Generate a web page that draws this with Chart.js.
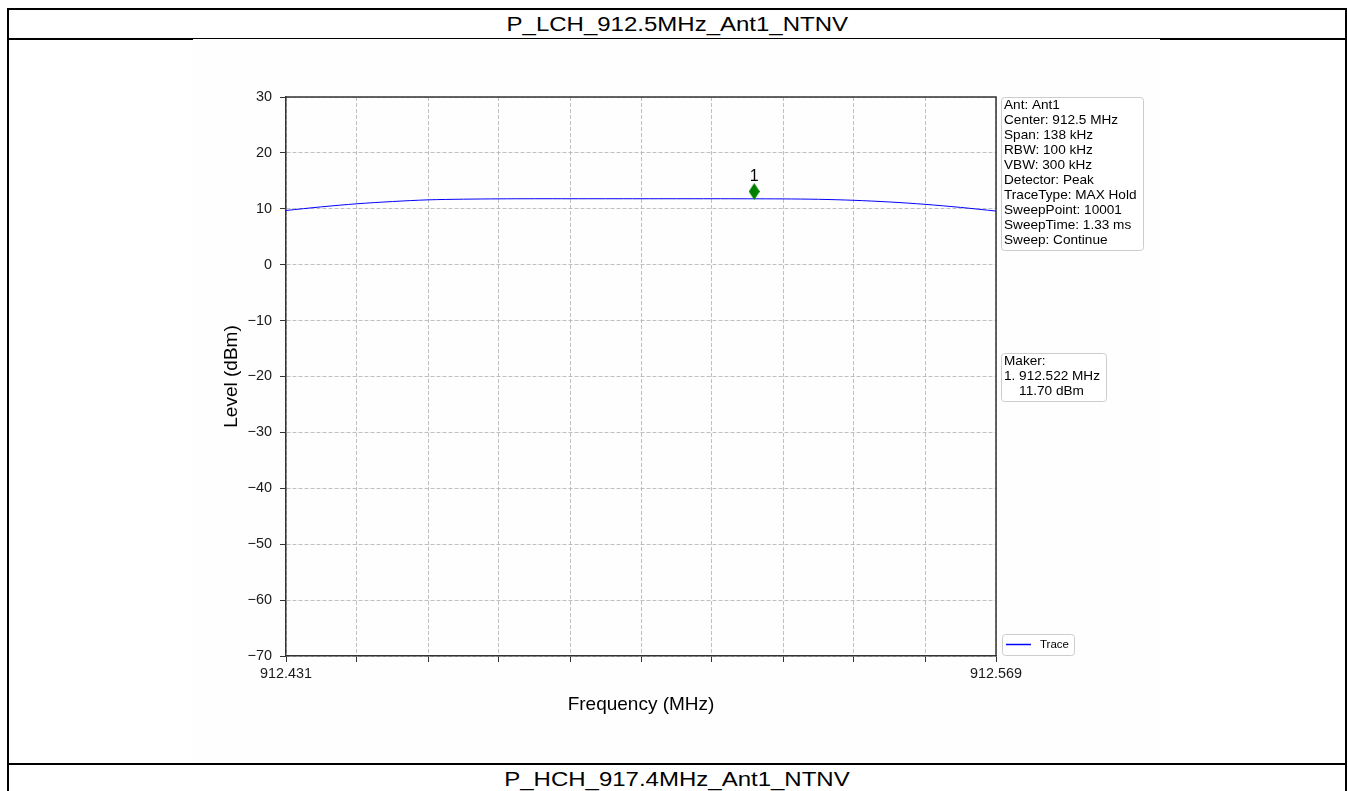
<!DOCTYPE html>
<html>
<head>
<meta charset="utf-8">
<script src="https://cdn.jsdelivr.net/npm/chart.js@4.4.1/dist/chart.umd.min.js"></script>
<style>
html,body{margin:0;padding:0;background:#fff;width:1348px;height:791px;overflow:hidden;font-family:"Liberation Sans",Arial,sans-serif;}
#frame{position:absolute;left:7px;top:8px;width:1340px;height:820px;border:2px solid #000;box-sizing:border-box;}
.hline{position:absolute;left:7px;width:1340px;height:2px;background:#000;}
.title{position:absolute;left:9px;width:1336px;height:28px;line-height:28px;text-align:center;font-size:20px;color:#000;}
.title span{display:inline-block;transform:scaleX(1.2);}
#wrap{position:absolute;left:193px;top:39px;width:967px;height:724px;background:#fefefe;}
canvas{display:block;}
</style>
</head>
<body>
<div id="frame"></div>
<div class="hline" style="top:38px"></div>
<div class="hline" style="top:763px"></div>
<div class="title" style="top:10px"><span id="t1"></span></div>
<div class="title" style="top:765px"><span id="t2"></span></div>
<div id="wrap"><canvas id="c" width="967" height="724"></canvas></div>
<script>
// ---- data ----
const sectionTitles = ["P_LCH_912.5MHz_Ant1_NTNV", "P_HCH_917.4MHz_Ant1_NTNV"];
const freqMin = 912.431;
const freqMax = 912.569;
const traceFreq = [912.431, 912.4379, 912.4448, 912.4517, 912.4586, 912.4655, 912.4724, 912.4793, 912.4862, 912.4931, 912.5000,
                   912.5069, 912.5138, 912.5207, 912.5276, 912.5345, 912.5414, 912.5483, 912.5552, 912.5621, 912.569];
const traceLevel = [9.70, 10.35, 10.90, 11.30, 11.60, 11.72, 11.78, 11.80, 11.80, 11.80, 11.80,
                    11.80, 11.80, 11.79, 11.77, 11.70, 11.52, 11.22, 10.80, 10.25, 9.60];
const markerFreq = [912.522];
const markerLevel = [11.70];
const markerLabels = ["1"];
const xTickLabels = ["912.431", "", "", "", "", "", "", "", "", "", "912.569"];
const yTickValues = [-70, -60, -50, -40, -30, -20, -10, 0, 10, 20, 30];
const yTickLabels = ["\u221270", "\u221260", "\u221250", "\u221240", "\u221230", "\u221220", "\u221210", "0", "10", "20", "30"];
const infoLines = ["Ant: Ant1", "Center: 912.5 MHz", "Span: 138 kHz", "RBW: 100 kHz", "VBW: 300 kHz",
                   "Detector: Peak", "TraceType: MAX Hold", "SweepPoint: 10001", "SweepTime: 1.33 ms", "Sweep: Continue"];
const makerLines = ["Maker:", "1. 912.522 MHz", "    11.70 dBm"];
const xTitle = "Frequency (MHz)";
const yTitle = "Level (dBm)";
const traceName = "Trace";

document.getElementById('t1').textContent = sectionTitles[0];
document.getElementById('t2').textContent = sectionTitles[1];

const FONT = '"Liberation Sans", Arial, sans-serif';
Chart.defaults.font.family = FONT;
const markerOffset = 1.4; // annotation drawn slightly above the level

function thinDiamond(w, h, color) {
  const c = document.createElement('canvas');
  c.width = w; c.height = h;
  const g = c.getContext('2d');
  g.fillStyle = color;
  g.beginPath();
  g.moveTo(w / 2, 0); g.lineTo(w, h / 2); g.lineTo(w / 2, h); g.lineTo(0, h / 2);
  g.closePath(); g.fill();
  return c;
}
const diamondImg = thinDiamond(11, 17, '#008000');

function roundBox(ctx, x, y, w, h, r) {
  ctx.save();
  ctx.beginPath();
  ctx.moveTo(x + r, y);
  ctx.lineTo(x + w - r, y); ctx.quadraticCurveTo(x + w, y, x + w, y + r);
  ctx.lineTo(x + w, y + h - r); ctx.quadraticCurveTo(x + w, y + h, x + w - r, y + h);
  ctx.lineTo(x + r, y + h); ctx.quadraticCurveTo(x, y + h, x, y + h - r);
  ctx.lineTo(x, y + r); ctx.quadraticCurveTo(x, y, x + r, y);
  ctx.closePath();
  ctx.fillStyle = 'rgba(255,255,255,0.85)';
  ctx.fill();
  ctx.strokeStyle = '#cccccc';
  ctx.lineWidth = 1;
  ctx.stroke();
  ctx.restore();
}

const overlay = {
  id: 'overlay',
  afterDatasetsDraw(chart) {
    const ctx = chart.ctx;
    const a = chart.chartArea;
    ctx.save();
    // top & right spines
    ctx.strokeStyle = '#333';
    ctx.lineWidth = 1.5;
    ctx.beginPath();
    ctx.moveTo(a.left, a.top); ctx.lineTo(a.right, a.top); ctx.lineTo(a.right, a.bottom);
    ctx.stroke();
    // marker label
    const meta = chart.getDatasetMeta(1);
    ctx.fillStyle = '#000';
    ctx.font = '16px ' + FONT;
    ctx.textAlign = 'center';
    ctx.textBaseline = 'middle';
    meta.data.forEach((p, i) => ctx.fillText(markerLabels[i], p.x, p.y - 15));
    // info box
    const bx = a.right + 5;
    roundBox(ctx, bx + 0.5, a.top + 0.5, 142, 153, 3);
    ctx.font = '13.6px ' + FONT;
    ctx.textAlign = 'left';
    ctx.fillStyle = '#000';
    infoLines.forEach((t, i) => ctx.fillText(t, bx + 3, a.top + 8 + i * 15));
    // maker box
    const my = a.top + 256;
    roundBox(ctx, bx + 0.5, my + 0.5, 105, 48, 3);
    ctx.fillStyle = '#000';
    makerLines.forEach((t, i) => ctx.fillText(t, bx + 3, my + 8 + i * 15.3));
    // legend
    const ly = a.bottom - 22;
    roundBox(ctx, bx + 1.5, ly + 0.5, 72, 21, 3);
    ctx.strokeStyle = '#0000ff';
    ctx.lineWidth = 1.5;
    ctx.beginPath();
    ctx.moveTo(bx + 5, ly + 10.5); ctx.lineTo(bx + 30, ly + 10.5);
    ctx.stroke();
    ctx.font = '11.5px ' + FONT;
    ctx.fillStyle = '#000';
    ctx.fillText(traceName, bx + 39, ly + 11);
    ctx.restore();
  }
};

new Chart(document.getElementById('c'), {
  type: 'scatter',
  data: {
    datasets: [
      {
        label: traceName,
        data: traceFreq.map((f, i) => ({ x: f, y: traceLevel[i] })),
        showLine: true,
        borderColor: '#0000ff',
        borderWidth: 1,
        pointRadius: 0,
        tension: 0.3,
        order: 2
      },
      {
        label: 'Marker',
        data: markerFreq.map((f, i) => ({ x: f, y: markerLevel[i] + markerOffset })),
        showLine: false,
        pointStyle: diamondImg,
        pointRadius: 6,
        order: 1
      }
    ]
  },
  options: {
    responsive: false,
    animation: false,
    devicePixelRatio: 1,
    layout: { padding: { left: 0, right: 164, top: 58, bottom: 0 } },
    plugins: { legend: { display: false }, tooltip: { enabled: false } },
    scales: {
      x: {
        type: 'linear',
        min: freqMin,
        max: freqMax,
        afterBuildTicks(scale) {
          scale.ticks = xTickLabels.map((_, i) => ({ value: freqMin + i * (freqMax - freqMin) / (xTickLabels.length - 1) }));
        },
        afterFit(scale) { scale.height = 107; },
        ticks: {
          autoSkip: false, maxRotation: 0, minRotation: 0,
          padding: 3,
          color: '#1a1a1a',
          font: { size: 14.4 },
          callback: (v, i) => xTickLabels[i]
        },
        grid: { color: '#b0b0b0', lineWidth: 0.8, drawTicks: true, tickLength: 6, tickColor: '#333', tickWidth: 1 },
        border: { display: true, color: '#333', width: 1.5, dash: [4, 2] },
        title: { display: true, text: xTitle, color: '#000', font: { size: 19 }, padding: { top: 0, bottom: 47 } }
      },
      y: {
        type: 'linear',
        min: -70,
        max: 30,
        afterBuildTicks(scale) { scale.ticks = yTickValues.map(v => ({ value: v })); },
        afterFit(scale) { scale.width = 93; },
        ticks: {
          padding: 8,
          color: '#1a1a1a',
          font: { size: 14.4 },
          callback: (v, i) => yTickLabels[i]
        },
        grid: { color: '#b0b0b0', lineWidth: 0.8, drawTicks: true, tickLength: 6, tickColor: '#333', tickWidth: 1 },
        border: { display: true, color: '#333', width: 1.5, dash: [4, 2] },
        title: { display: true, text: yTitle, color: '#000', font: { size: 19 }, padding: { top: 27, bottom: 0 } }
      }
    }
  },
  plugins: [overlay]
});
</script>
</body>
</html>
